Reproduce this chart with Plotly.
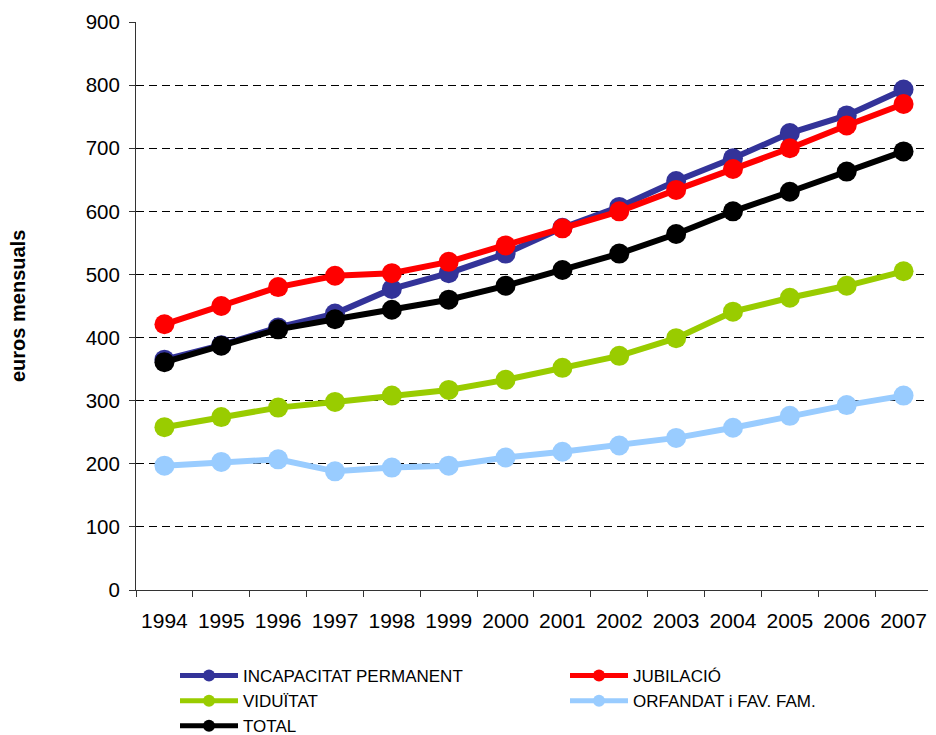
import plotly.graph_objects as go

years = ["1994", "1995", "1996", "1997", "1998", "1999", "2000",
         "2001", "2002", "2003", "2004", "2005", "2006", "2007"]
incapacitat = [365, 388, 416, 438, 477, 502, 533, 574, 607, 648, 684, 724, 752, 793]
jubilacio = [421, 450, 480, 498, 502, 520, 546, 573, 600, 634, 667, 700, 736, 770]
viduitat = [258, 274, 289, 298, 308, 317, 333, 352, 371, 399, 441, 463, 482, 505]
orfandat = [197, 203, 207, 188, 194, 197, 210, 219, 229, 241, 257, 276, 293, 308]
total = [361, 387, 413, 429, 444, 460, 482, 507, 533, 564, 600, 631, 663, 695]

series = [
    ("INCAPACITAT PERMANENT", incapacitat, "#333399"),
    ("JUBILACIÓ", jubilacio, "#FF0000"),
    ("VIDUÏTAT", viduitat, "#99CC00"),
    ("ORFANDAT i FAV. FAM.", orfandat, "#99CCFF"),
    ("TOTAL", total, "#000000"),
]

FONT = "Arial, Liberation Sans, sans-serif"
PLOT_W = 792

fig = go.Figure()
for name, vals, col in series:
    fig.add_trace(go.Scatter(
        x=years, y=vals, name=name, mode="lines+markers",
        line=dict(color=col, width=6),
        marker=dict(color=col, size=20),
    ))

# page body has an 8px margin: figure is placed at (8, 8); keep it inside the window
fig.update_layout(
    template="none",
    width=128 + PLOT_W, height=727,
    margin=dict(l=128, r=0, t=14, b=145, autoexpand=False),
    plot_bgcolor="white", paper_bgcolor="white",
    font=dict(family=FONT, color="black", size=20),
    showlegend=True,
    legend=dict(
        orientation="h", x=39 / PLOT_W, y=-0.1197, xanchor="left", yanchor="top",
        font=dict(family=FONT, size=17, color="black"),
        entrywidth=317, entrywidthmode="pixels",
        itemsizing="constant", itemwidth=58,
        traceorder="normal", tracegroupgap=0,
        bgcolor="rgba(0,0,0,0)",
    ),
    annotations=[dict(
        text="<b>euros mensuals</b>", textangle=-90,
        xref="paper", yref="paper", x=(18 - 136) / PLOT_W, y=0.5,
        xanchor="center", yanchor="middle", showarrow=False,
        font=dict(family=FONT, size=20, color="black"),
    )],
)

fig.update_xaxes(
    type="category", range=[-0.5, 13.43], automargin=False,
    showgrid=False, showline=True, linecolor="#333333", linewidth=1,
    ticks="outside", ticklen=6, tickcolor="#333333", tickson="boundaries",
    tickfont=dict(family=FONT, size=21, color="black"),
    ticklabelstandoff=12, zeroline=False,
)
fig.update_yaxes(
    range=[0, 900], dtick=100, tick0=0, automargin=False,
    showgrid=True, gridcolor="black", gridwidth=1, griddash="8px,5px",
    showline=True, linecolor="#333333", linewidth=1,
    ticks="outside", ticklen=6, tickcolor="#333333",
    tickfont=dict(family=FONT, size=20.5, color="black"),
    ticklabelstandoff=5, zeroline=False,
)

fig.write_html("out.html")
